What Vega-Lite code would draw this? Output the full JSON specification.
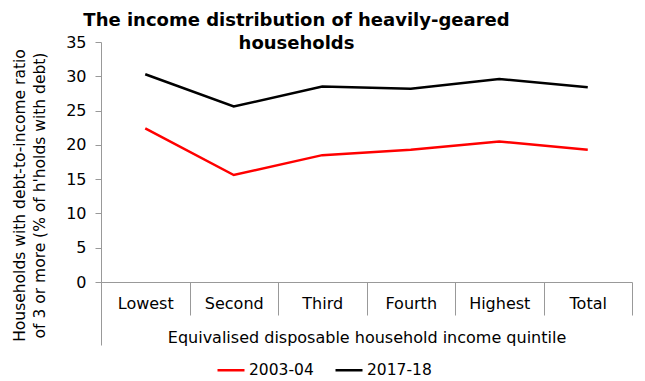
{
  "$schema": "https://vega.github.io/schema/vega-lite/v6.json",
  "width": 531,
  "height": 240,
  "autosize": {"type": "none"},
  "padding": {"left": 101, "top": 42, "right": 13, "bottom": 99},
  "background": "white",
  "config": {
    "font": "DejaVu Sans",
    "view": {"stroke": null}
  },
  "title": {
    "text": ["The income distribution of heavily-geared", "households"],
    "fontSize": 18,
    "fontWeight": "bold",
    "color": "black",
    "anchor": "middle",
    "frame": "group",
    "dx": -70,
    "offset": -19,
    "lineHeight": 23
  },
  "data": {
    "values": [
      {"quintile": "Lowest", "series": "2003-04", "value": 22.4},
      {"quintile": "Second", "series": "2003-04", "value": 15.6},
      {"quintile": "Third", "series": "2003-04", "value": 18.5},
      {"quintile": "Fourth", "series": "2003-04", "value": 19.3},
      {"quintile": "Highest", "series": "2003-04", "value": 20.5},
      {"quintile": "Total", "series": "2003-04", "value": 19.3},
      {"quintile": "Lowest", "series": "2017-18", "value": 30.3},
      {"quintile": "Second", "series": "2017-18", "value": 25.6},
      {"quintile": "Third", "series": "2017-18", "value": 28.5},
      {"quintile": "Fourth", "series": "2017-18", "value": 28.2},
      {"quintile": "Highest", "series": "2017-18", "value": 29.6},
      {"quintile": "Total", "series": "2017-18", "value": 28.4}
    ]
  },
  "encoding": {
    "y": {
      "field": "value",
      "type": "quantitative",
      "scale": {"domain": [0, 35]},
      "axis": {
        "title": ["Households with debt-to-income ratio", "of 3 or more (% of h'holds with debt)"],
        "titleFontSize": 15.5,
        "titleFontWeight": "normal",
        "titleColor": "black",
        "titleLineHeight": 20,
        "titlePadding": 18,
        "titleY": 153,
        "values": [0, 5, 10, 15, 20, 25, 30, 35],
        "labelFontSize": 16,
        "labelColor": "black",
        "labelPadding": 9,
        "tickSize": 6,
        "tickColor": "#999999",
        "domainColor": "#999999",
        "grid": false
      }
    },
    "color": {
      "field": "series",
      "type": "nominal",
      "scale": {"domain": ["2003-04", "2017-18"], "range": ["#ff0000", "#000000"]},
      "legend": {
        "title": null,
        "orient": "none",
        "legendX": 115,
        "legendY": 313,
        "direction": "horizontal",
        "symbolType": "stroke",
        "symbolStrokeWidth": 2.5,
        "symbolSize": 729,
        "labelFontSize": 15.5,
        "labelColor": "black",
        "labelOffset": 3,
        "columnPadding": 16
      }
    }
  },
  "layer": [
    {
      "transform": [{"filter": "datum.series === '2003-04'"}],
      "mark": {"type": "line", "strokeWidth": 2.5},
      "encoding": {
        "x": {
          "field": "quintile",
          "type": "nominal",
          "sort": null,
          "scale": {"type": "band", "paddingInner": 0, "paddingOuter": 0},
          "axis": {
            "orient": "bottom",
            "title": "Equivalised disposable household income quintile",
            "titleFontSize": 16,
            "titleFontWeight": "normal",
            "titleColor": "black",
            "titlePadding": 14,
            "labelAngle": 0,
            "labelFontSize": 16,
            "labelColor": "black",
            "labelPadding": -20,
            "tickBand": "extent",
            "tickSize": 33,
            "tickColor": "#999999",
            "domainColor": "#999999",
            "grid": false
          }
        }
      }
    },
    {
      "transform": [{"filter": "datum.series === '2017-18'"}],
      "mark": {"type": "line", "strokeWidth": 2.5},
      "encoding": {
        "x": {
          "field": "quintile",
          "type": "nominal",
          "sort": null,
          "axis": {
            "orient": "bottom",
            "title": null,
            "labels": false,
            "domain": false,
            "values": ["Lowest"],
            "bandPosition": 0,
            "tickSize": 63,
            "tickColor": "#999999",
            "grid": false
          }
        }
      }
    }
  ],
  "resolve": {"axis": {"x": "independent"}}
}
